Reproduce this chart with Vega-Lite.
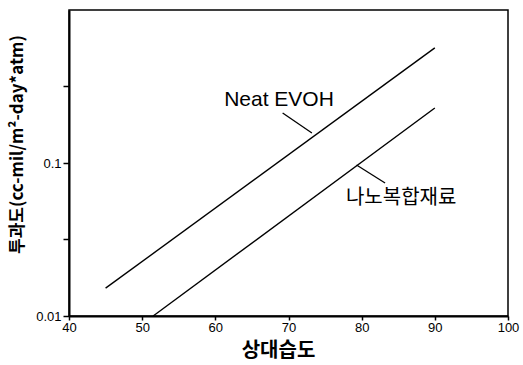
{
  "$schema": "https://vega.github.io/schema/vega-lite/v6.json",
  "width": 439,
  "height": 306,
  "autosize": {"type": "none"},
  "padding": {"left": 69, "top": 10, "right": 15, "bottom": 49},
  "background": "white",
  "config": {
    "view": {"stroke": "black", "strokeWidth": 1.5},
    "font": "Liberation Sans",
    "axis": {"domainColor": "black", "tickColor": "black", "labelColor": "black", "titleColor": "black", "grid": false, "domainWidth": 2, "tickWidth": 1.5}
  },
  "datasets": {
    "lines": [
      {"rh": 45, "perm": 0.0152, "series": "Neat EVOH"},
      {"rh": 90, "perm": 0.565, "series": "Neat EVOH"},
      {"rh": 51.5, "perm": 0.01, "series": "나노복합재료"},
      {"rh": 90, "perm": 0.229, "series": "나노복합재료"}
    ],
    "labels": [
      {"rh": 68.7, "perm": 0.258, "text": "Neat EVOH", "font": "Liberation Sans", "size": 21},
      {"rh": 85.4, "perm": 0.059, "text": "나노복합재료", "font": "Noto Sans CJK KR", "size": 20}
    ],
    "leaders": [
      {"rh": 69.2, "perm": 0.212, "rh2": 73.2, "perm2": 0.157},
      {"rh": 79.3, "perm": 0.097, "rh2": 83.2, "perm2": 0.074}
    ]
  },
  "layer": [
    {
      "data": {"name": "lines"},
      "mark": {"type": "line", "color": "black", "strokeWidth": 1.4},
      "encoding": {
        "x": {
          "field": "rh", "type": "quantitative",
          "scale": {"domain": [40, 100], "nice": false, "zero": false},
          "axis": {"values": [40, 50, 60, 70, 80, 90, 100], "title": "상대습도", "titleFont": "Noto Sans CJK KR", "titleFontWeight": "bold", "titleFontSize": 20, "titleX": 209, "titleY": 34, "titleBaseline": "middle", "labelFontSize": 13, "labelFont": "Liberation Sans", "labelPadding": 1, "tickSize": 4, "labelFlush": false}
        },
        "y": {
          "field": "perm", "type": "quantitative",
          "scale": {"type": "log", "domain": [0.01, 1], "nice": false},
          "axis": {"values": [0.01, 0.0316228, 0.1, 0.316228], "labelExpr": "datum.value == 0.01 ? '0.01' : (abs(datum.value - 0.1) < 0.001 ? '0.1' : '')", "title": "투과도(cc-mil/m²-day*atm)", "titleFont": "Noto Sans CJK KR", "titleFontWeight": "bold", "titleFontSize": 17, "titleX": -52, "titleY": 134, "titleAngle": -90, "titleAlign": "center", "titleBaseline": "middle", "labelFontSize": 13, "tickSize": 6, "labelPadding": 2}
        },
        "detail": {"field": "series"}
      }
    },
    {
      "data": {"name": "leaders"},
      "mark": {"type": "rule", "color": "black", "strokeWidth": 1.3},
      "encoding": {
        "x": {"field": "rh", "type": "quantitative"},
        "y": {"field": "perm", "type": "quantitative"},
        "x2": {"field": "rh2"},
        "y2": {"field": "perm2"}
      }
    },
    {
      "data": {"name": "labels"},
      "mark": {"type": "text", "color": "black", "align": "center", "baseline": "middle", "font": {"expr": "datum.font"}, "fontSize": {"expr": "datum.size"}},
      "encoding": {
        "x": {"field": "rh", "type": "quantitative"},
        "y": {"field": "perm", "type": "quantitative"},
        "text": {"field": "text"}
      }
    }
  ]
}
